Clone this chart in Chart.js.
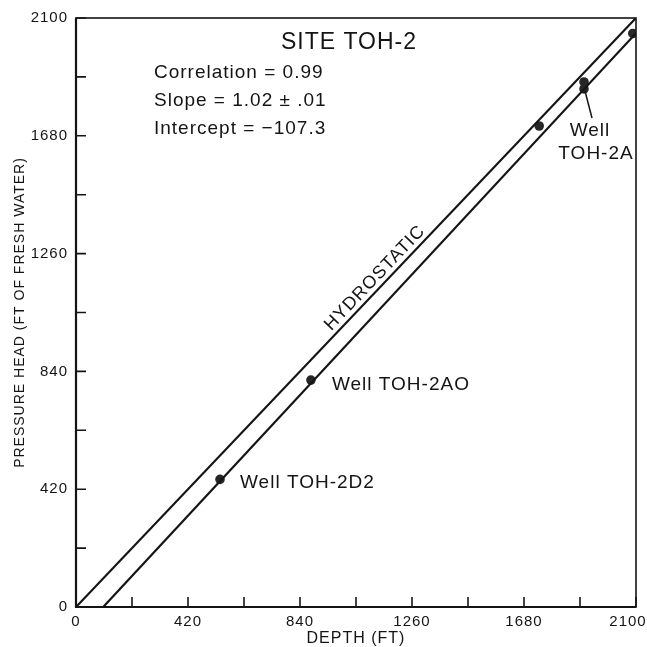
<!DOCTYPE html>
<html>
<head>
<meta charset="utf-8">
<script src="https://cdn.jsdelivr.net/npm/chart.js@4.4.0/dist/chart.umd.min.js"></script>
<style>
    html, body { margin: 0; padding: 0; background: #fff; }
    #wrap { width: 647px; height: 647px; }
</style>
</head>
<body>
<div id="wrap"><canvas id="chartSite"></canvas></div>
<script>
// axis labels shown every 420 ft, tick marks every 210 ft
const depthLabels = [0, 420, 840, 1260, 1680, 2100];
const headLabels = [0, 420, 840, 1260, 1680, 2100];

const hydroDepth = [0, 2100];
const hydroHead = [0, 2100];

const fitDepth = [102, 2100];
const fitHead = [0, 2046];

const wellDepth = [540, 881, 1737, 1905, 1905, 2088];
const wellHead = [455, 809, 1715, 1872, 1847, 2045];

const siteTitle = "SITE TOH-2";
const statLines = ["Correlation = 0.99", "Slope = 1.02 ± .01", "Intercept = −107.3"];

const INK = "#141414";
const FONT = "'Liberation Sans', Arial, sans-serif";

const pts = (xs, ys) => xs.map((v, i) => ({ x: v, y: ys[i] }));

const notes = {
    id: "notes",
    beforeDraw(chart) {
        chart.ctx.letterSpacing = "1px";
    },
    afterDraw(chart) {
        const { ctx, chartArea: a, scales: { x, y } } = chart;
        ctx.save();
        ctx.strokeStyle = INK;
        ctx.fillStyle = INK;

        // frame: heavier on the axis sides
        ctx.lineWidth = 1.6;
        ctx.strokeRect(a.left, a.top, a.right - a.left, a.bottom - a.top);
        ctx.lineWidth = 2.2;
        ctx.beginPath();
        ctx.moveTo(a.left, a.top);
        ctx.lineTo(a.left, a.bottom);
        ctx.lineTo(a.right, a.bottom);
        ctx.stroke();

        // inward tick marks
        ctx.lineWidth = 1.6;
        ctx.beginPath();
        x.ticks.forEach(t => {
            const px = x.getPixelForValue(t.value);
            ctx.moveTo(px, a.bottom);
            ctx.lineTo(px, a.bottom - 10);
        });
        y.ticks.forEach(t => {
            const py = y.getPixelForValue(t.value);
            ctx.moveTo(a.left, py);
            ctx.lineTo(a.left + 10, py);
        });
        ctx.stroke();

        // title block
        ctx.textBaseline = "middle";
        ctx.textAlign = "center";
        ctx.font = "23px " + FONT;
        ctx.fillText(siteTitle, 349, 43);
        ctx.textAlign = "left";
        ctx.font = "19px " + FONT;
        statLines.forEach((s, i) => ctx.fillText(s, 154, 73 + i * 28));

        // well labels
        const wx = i => x.getPixelForValue(wellDepth[i]);
        const wy = i => y.getPixelForValue(wellHead[i]);
        ctx.font = "19px " + FONT;
        ctx.fillText("Well TOH-2D2", wx(0) + 20, wy(0) + 3);
        ctx.fillText("Well TOH-2AO", wx(1) + 21, wy(1) + 5);
        ctx.textAlign = "center";
        ctx.fillText("Well", wx(3) + 6, wy(3) + 49);
        ctx.fillText("TOH-2A", wx(3) + 12, wy(3) + 72);
        ctx.lineWidth = 1.5;
        ctx.beginPath();
        ctx.moveTo(wx(3) + 1, wy(3) + 9);
        ctx.lineTo(wx(3) + 8, wy(3) + 36);
        ctx.stroke();

        // hydrostatic label along the line
        const x0 = x.getPixelForValue(hydroDepth[0]), y0 = y.getPixelForValue(hydroHead[0]);
        const x1 = x.getPixelForValue(hydroDepth[1]), y1 = y.getPixelForValue(hydroHead[1]);
        const ang = Math.atan2(y1 - y0, x1 - x0);
        ctx.translate(x.getPixelForValue(1121), y.getPixelForValue(1173));
        ctx.rotate(ang);
        ctx.font = "18px " + FONT;
        ctx.fillText("HYDROSTATIC", 0, 0);
        ctx.restore();
    }
};

new Chart(document.getElementById("chartSite"), {
    type: "scatter",
    data: {
        datasets: [
            { label: "Hydrostatic", data: pts(hydroDepth, hydroHead), showLine: true, borderColor: INK, borderWidth: 2.2, pointRadius: 0 },
            { label: "Fit", data: pts(fitDepth, fitHead), showLine: true, borderColor: INK, borderWidth: 2.2, pointRadius: 0 },
            { label: "Wells", data: pts(wellDepth, wellHead), pointRadius: 4.8, pointBackgroundColor: "#262626", pointBorderColor: "#262626", pointBorderWidth: 0 },
        ],
    },
    options: {
        responsive: true, maintainAspectRatio: false, animation: false,
        layout: { padding: { top: 18, right: 11, left: 0, bottom: 0 } },
        plugins: { legend: { display: false }, tooltip: { enabled: false } },
        scales: {
            x: {
                type: "linear", min: 0, max: 2100,
                border: { display: false },
                grid: { display: false, drawTicks: false },
                ticks: {
                    stepSize: 210, autoSkip: false, maxRotation: 0, maxTicksLimit: 30, padding: 6,
                    color: INK, font: { family: FONT, size: 15 },
                    // last label nudged left so it stays inside the page
                    callback: v => v === 2100 ? "2100\u2003" : depthLabels.includes(v) ? String(v) : "",
                },
                title: { display: true, text: "DEPTH (FT)", color: INK, font: { family: FONT, size: 16, lineHeight: 1 }, padding: { top: 0, bottom: 0.5 } },
                afterFit(s) { s.height = 40; s.paddingLeft = 0; s.paddingRight = 0; },
            },
            y: {
                type: "linear", min: 0, max: 2100,
                border: { display: false },
                grid: { display: false, drawTicks: false },
                ticks: {
                    stepSize: 210, autoSkip: false, maxTicksLimit: 30, padding: 8,
                    color: INK, font: { family: FONT, size: 15 },
                    callback: v => headLabels.includes(v) ? String(v) : "",
                },
                title: { display: true, text: "PRESSURE HEAD (FT OF FRESH WATER)", color: INK, font: { family: FONT, size: 14, lineHeight: 1.2 }, padding: { top: 12, bottom: 0 } },
                afterFit(s) { s.width = 76; s.paddingTop = 0; s.paddingBottom = 0; },
            },
        },
    },
    plugins: [notes],
});
</script>
</body>
</html>
